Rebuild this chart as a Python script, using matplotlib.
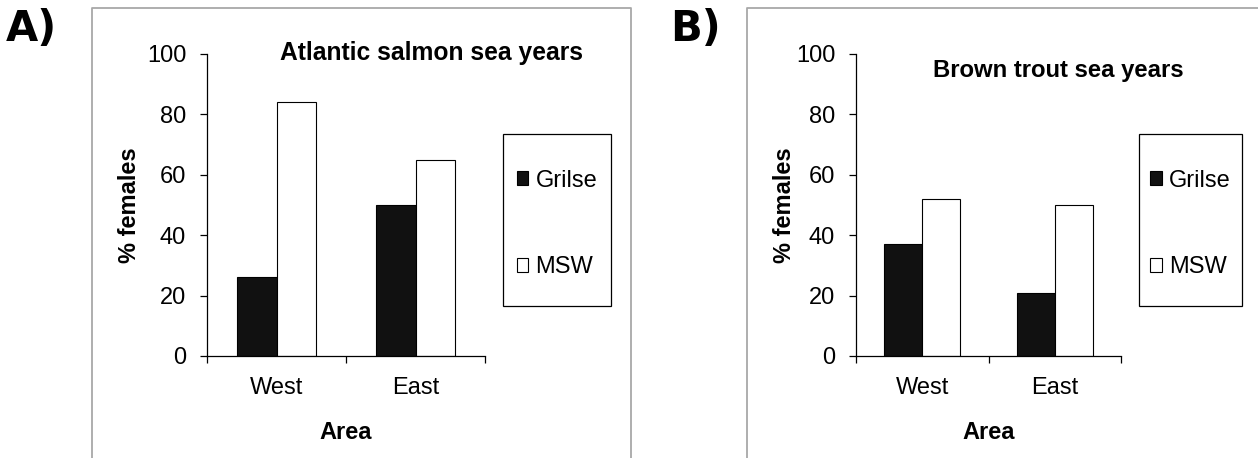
import numpy as np
import matplotlib
matplotlib.use('Agg')
import matplotlib.pyplot as plt
from matplotlib.patches import Rectangle
from matplotlib.lines import Line2D

# Données
areas = ['West', 'East']
series = ['Grilse', 'MSW']
salmon_grilse = [26, 50]
salmon_msw = [84, 65]
trout_grilse = [37, 21]
trout_msw = [52, 50]

plt.rcParams['font.family'] = ['Liberation Sans', 'DejaVu Sans']

W, H = 1258, 458
fig = plt.figure(figsize=(W / 100, H / 100), dpi=100)


def fbox(x0, y0, x1, y1):
    # pixels -> coordonnées figure
    return [x0 / W, 1 - y1 / H, (x1 - x0) / W, (y1 - y0) / H]


# cadres gris
fig.add_artist(Line2D([92 / W, 92 / W, 631 / W, 631 / W], [0, 1 - 8 / H, 1 - 8 / H, 0],
                      color='#a8a8a8', lw=1.3))
fig.add_artist(Line2D([747 / W, 747 / W, 1.0], [0, 1 - 8 / H, 1 - 8 / H],
                      color='#a8a8a8', lw=1.3))

fig.text(6 / W, 1 - 29 / H, 'A)', family='DejaVu Sans', fontsize=30, fontweight='bold', va='center')
fig.text(670 / W, 1 - 29 / H, 'B)', family='DejaVu Sans', fontsize=30, fontweight='bold', va='center')

panels = [
    (fbox(207, 54, 485, 356), salmon_grilse, salmon_msw, 'Atlantic salmon sea years', 17.7,
     (0.806, 1.003), (503, 134, 611, 306), -0.237),
    (fbox(856, 54, 1121, 356), trout_grilse, trout_msw, 'Brown trout sea years', 17.2,
     (0.762, 0.947), (1139, 134, 1242, 306), -0.226),
]

fs = 17
w = 0.287
x = np.arange(len(areas))
for rect, g, m, title, tfs, tpos, lbox, ylx in panels:
    ax = fig.add_axes(rect)
    b1 = ax.bar(x - w / 2, g, w, color='#111111', edgecolor='black', lw=0.8, label=series[0])
    b2 = ax.bar(x + w / 2, m, w, color='white', edgecolor='black', lw=0.8, label=series[1])
    ax.set_xlim(-0.5, 1.5)
    ax.set_ylim(0, 100)
    ax.set_yticks([0, 20, 40, 60, 80, 100])
    ax.set_xticks([-0.5, 0.5, 1.5])
    ax.set_xticklabels([])
    ax.set_xticks(x, minor=True)
    ax.set_xticklabels(areas, minor=True)
    ax.tick_params(axis='x', which='major', direction='out', length=5, width=0.9)
    ax.tick_params(axis='x', which='minor', length=0, pad=15, labelsize=fs)
    ax.tick_params(axis='y', direction='out', length=5, width=0.9, pad=10, labelsize=fs)
    for s in ['top', 'right']:
        ax.spines[s].set_visible(False)
    for s in ['left', 'bottom']:
        ax.spines[s].set_linewidth(0.9)
    ax.set_ylabel('% females', fontsize=fs, fontweight='bold')
    ax.yaxis.set_label_coords(ylx, 0.5)
    ax.set_xlabel('Area', fontsize=fs, fontweight='bold')
    ax.xaxis.set_label_coords(0.5, -0.215)
    ax.text(tpos[0], tpos[1], title, transform=ax.transAxes, ha='center', va='center',
            fontsize=tfs, fontweight='bold')

    # légende
    x0, y0, x1, y1 = lbox
    fig.add_artist(Rectangle((x0 / W, 1 - y1 / H), (x1 - x0) / W, (y1 - y0) / H,
                             transform=fig.transFigure, fill=False, edgecolor='black', lw=0.9))
    ax.legend(handles=[b1, b2], loc='center', frameon=False, fontsize=fs,
              bbox_to_anchor=((x0 + x1) / 2 / W, 1 - ((y0 + y1) / 2 + 4) / H),
              bbox_transform=fig.transFigure, handlelength=0.5, handleheight=0.5,
              handletextpad=0.3, labelspacing=2.75)

fig.savefig('out.png', dpi=100)
